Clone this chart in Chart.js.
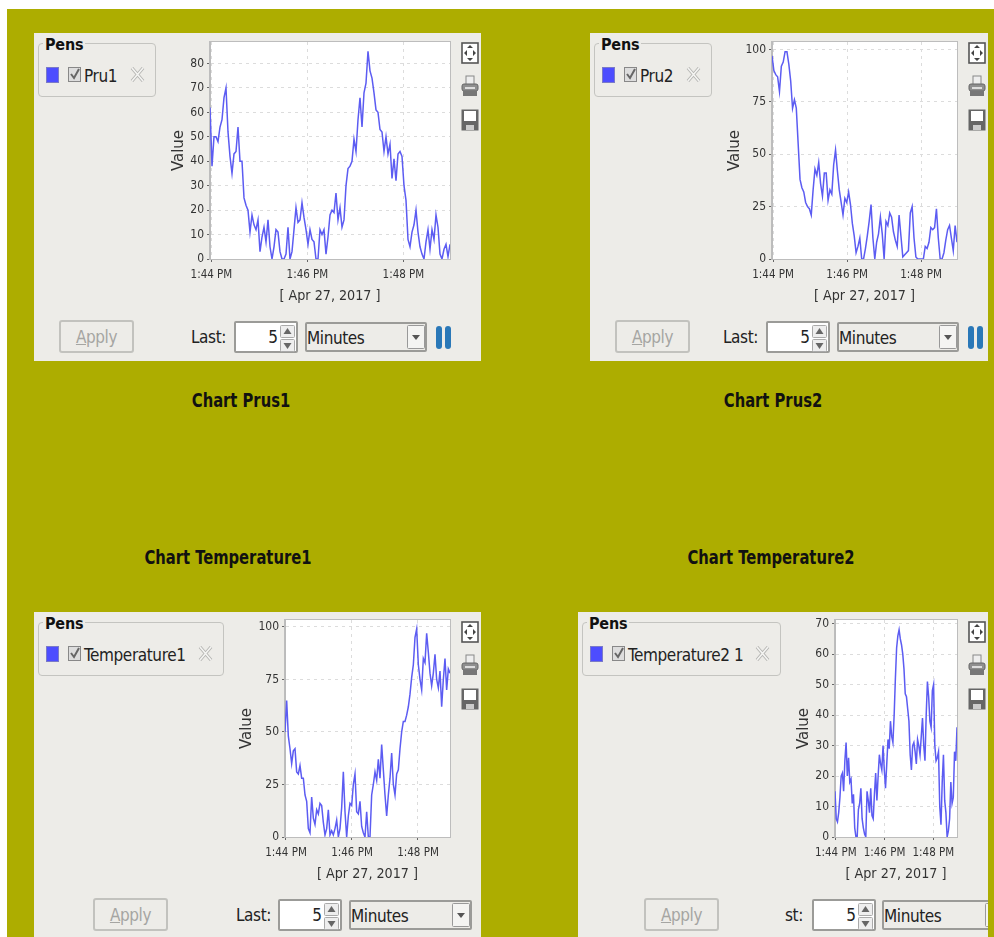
<!DOCTYPE html>
<html>
<head>
<meta charset="utf-8">
<title>Charts</title>
<script src="https://cdn.jsdelivr.net/npm/chart.js@4"></script>
<style>
  html, body { margin: 0; background: #fff; overflow: hidden; }
  #stage { position: relative; width: 994px; height: 937px; overflow: hidden; font-family: "DejaVu Sans Condensed", "DejaVu Sans", sans-serif; color: #222; filter: blur(0.4px); }
  #olive { position: absolute; left: 7px; top: 9px; right: 0; bottom: 0; background: #adad00; }
  .abs { position: absolute; }
  .panel { position: absolute; background: #edece8; overflow: hidden; }
  .heading { position: absolute; font-weight: bold; font-size: 20px; line-height: 22px; color: #111; white-space: nowrap; transform: translateX(-50%) scaleX(0.82); }
  .pens { position: absolute; border: 1px solid #c4c4c0; border-radius: 4px; box-sizing: border-box; }
  .penstitle { position: absolute; left: 4px; top: -8px; padding: 0 2px; background: #edece8; font-weight: bold; font-size: 16px; line-height: 18px; color: #111; letter-spacing: -0.2px; }
  .swatch { position: absolute; background: #4d4dff; border: 1px solid #7a7ac8; box-sizing: border-box; }
  .txt { position: absolute; white-space: nowrap; font-size: 17px; line-height: 20px; color: #222; letter-spacing: -0.4px; }
  .btn { position: absolute; box-sizing: border-box; border: 2px solid #c2c2be; border-radius: 3px; background: #edece8; color: #a5a5a2; text-align: center; font-size: 17px; line-height: 30px; letter-spacing: -0.4px; }
  .spin { position: absolute; box-sizing: border-box; border: 2px solid #9b9b98; border-radius: 2px; background: #fff; font-size: 17px; line-height: 28px; text-align: right; padding-right: 18px; color: #222; }
  .combo { position: absolute; box-sizing: border-box; border: 2px solid #9b9b98; border-radius: 2px; background: #edece8; font-size: 17px; line-height: 28px; padding-left: 0; color: #222; letter-spacing: -0.4px; }
  canvas { position: absolute; }
</style>
</head>
<body>
<div id="stage"><div id="olive"></div></div>
<script>
// values, evenly spaced over the 5 minute window
const pru1Values = [62,38,50,50,48,54,57,66,70,52,42,35,43,44,54,40,40,25,22,20,11,18,14,12,16,3,9,13,7,16,5,0,5,12,11,3,0,0,2,13,0,3,12,21,15,16,23,17,12,6,12,8,7,0,0,12,10,12,2,9,18,20,19,27,16,21,13,16,30,37,38,40,49,44,57,66,54,68,72,85,77,74,68,61,60,53,52,44,50,43,47,33,41,32,43,44,42,30,24,8,5,11,14,20,11,5,2,0,7,12,4,12,8,18,13,2,0,4,6,1,6];
const pru2Values = [97,90,88,87,80,92,94,99,99,93,85,72,76,72,55,38,34,32,27,25,24,21,33,43,40,46,36,30,41,41,28,33,31,45,52,42,33,27,21,29,27,32,26,17,11,3,6,10,0,0,5,11,18,26,10,0,8,12,20,12,0,18,16,22,20,13,9,6,21,11,1,2,3,4,22,25,10,1,0,0,0,0,6,5,8,15,14,15,24,10,0,0,3,9,14,16,10,4,16,8];
const temp1Values = [50,65,48,42,35,41,42,31,30,34,28,28,20,17,4,2,19,9,6,13,11,16,15,7,1,4,13,1,3,1,4,8,0,4,14,31,12,0,10,16,15,25,30,12,11,17,5,2,0,12,0,0,20,25,31,27,37,28,44,32,20,10,20,28,40,25,20,30,32,42,50,55,55,58,62,68,76,82,95,99,82,75,70,85,83,97,88,78,72,78,87,75,71,79,62,75,85,70,80,78];
const temp2Values = [15,6,5,8,13,20,21,15,25,31,20,26,18,19,11,14,3,0,0,9,11,16,6,3,1,0,15,12,8,16,7,6,14,21,12,20,27,24,22,30,22,16,24,32,29,38,33,31,40,52,62,66,68,65,63,60,55,47,46,42,38,27,22,30,31,28,24,32,30,27,33,39,30,25,40,51,46,38,36,48,50,30,25,26,28,10,4,18,27,12,8,0,2,6,18,11,13,28,25,36];

const timeTicks = [0, 2, 4];
const timeLabels = ['1:44 PM', '1:46 PM', '1:48 PM'];
const ticks10 = [0, 10, 20, 30, 40, 50, 60, 70, 80];
const ticks25 = [0, 25, 50, 75, 100];
const ticks70 = [0, 10, 20, 30, 40, 50, 60, 70];

const dateLabel = '[ Apr 27, 2017 ]';
const lineColor = '#5c5cf2';

const icons = {
  zoom: '<svg width="18" height="22" viewBox="0 0 18 22"><rect x="1" y="1" width="16" height="20" fill="#fff" stroke="#555" stroke-width="1.6"/><path d="M9 3l3 3H6zM9 19l3-3H6zM3 11l3-3v6zM15 11l-3-3v6z" fill="#444"/></svg>',
  print: '<svg width="18" height="22" viewBox="0 0 18 22"><rect x="5" y="1" width="8" height="9" fill="#eee" stroke="#888"/><rect x="1" y="9" width="16" height="7" rx="2" fill="#8f8f8f" stroke="#666"/><rect x="2" y="16" width="14" height="5" fill="#777"/><rect x="4" y="12" width="10" height="2" fill="#ddd"/></svg>',
  save: '<svg width="18" height="22" viewBox="0 0 18 22"><rect x="0.5" y="0.5" width="17" height="21" fill="#666"/><rect x="3" y="2" width="12" height="10" fill="#fff"/><rect x="5" y="16" width="8" height="5" fill="#ccc"/></svg>',
  cross: '<svg width="15" height="17" viewBox="0 0 15 17"><path d="M2 2l11 13M13 2L2 15" stroke="#b5b5b2" stroke-width="3.4" fill="none"/><path d="M2 2l11 13M13 2L2 15" stroke="#f4f4f2" stroke-width="1.6" fill="none"/></svg>',
  check: '<svg width="13" height="15" viewBox="0 0 13 15"><rect x="0.5" y="0.5" width="12" height="14" fill="#ddd" stroke="#888"/><path d="M3 7l3 4 5-9" stroke="#666" stroke-width="2" fill="none"/></svg>',
  pause: '<svg width="15" height="23" viewBox="0 0 15 23"><rect x="0" y="0" width="6" height="23" rx="3" fill="#2a78b8"/><rect x="9" y="0" width="6" height="23" rx="3" fill="#2a78b8"/></svg>',
  up: '<svg width="15" height="13" viewBox="0 0 15 13"><rect x="0.5" y="0.5" width="14" height="12" rx="1" fill="#eee" stroke="#aaa"/><path d="M7.5 3l4 6h-8z" fill="#666"/></svg>',
  down: '<svg width="15" height="13" viewBox="0 0 15 13"><rect x="0.5" y="0.5" width="14" height="12" rx="1" fill="#eee" stroke="#aaa"/><path d="M7.5 10l4-6h-8z" fill="#666"/></svg>',
  drop: '<svg width="18" height="24" viewBox="0 0 18 24"><rect x="0.5" y="0.5" width="17" height="23" rx="1" fill="#f4f4f2" stroke="#999"/><path d="M9 15l4-5H5z" fill="#555"/></svg>'
};

const stage = document.getElementById('stage');

function el(cls, x, y, w, h, html) {
  const d = document.createElement('div');
  d.className = cls;
  d.style.left = x + 'px';
  d.style.top = y + 'px';
  if (w) d.style.width = w + 'px';
  if (h) d.style.height = h + 'px';
  if (html) d.innerHTML = html;
  stage.appendChild(d);
  return d;
}

function heading(text, cx, y) {
  el('heading', cx, y, 0, 0, text).style.width = 'auto';
}

// cut a widget off at the panel's right edge, the fourth panel is too narrow for its combo
function clipTo(d, x, w, edge) {
  if (x + w > edge) d.style.clipPath = 'inset(0 ' + (x + w - edge) + 'px 0 0)';
}

function widgets(p) {
  el('panel', p.x, p.y, p.w, p.h);
  const top = p.y, edge = p.x + p.w;
  el('pens', p.penX, top + 10, p.penW, 54, '<div class="penstitle">Pens</div>').style.zIndex = 1;
  el('swatch', p.penX + 8, top + 34, 13, 16);
  el('abs', p.penX + 30, top + 34, 13, 15, icons.check);
  el('txt', p.penX + 46, top + 33, 0, 0, p.name);
  el('abs', p.crossX, top + 33, 15, 17, icons.cross);
  el('abs', p.iconX, top + 9, 18, 22, icons.zoom);
  el('abs', p.iconX, top + 42, 18, 22, icons.print);
  el('abs', p.iconX, top + 76, 18, 22, icons.save);
  const by = top + p.btnY;
  el('btn', p.applyX, by, 75, 33, '<u>A</u>pply');
  el('txt', p.lastX, by + 7, 0, 0, p.lastText);
  el('spin', p.spinX, by + 1, 64, 32, '5');
  el('abs', p.spinX + 46, by + 3, 15, 13, icons.up);
  el('abs', p.spinX + 46, by + 17, 15, 13, icons.down);
  clipTo(el('combo', p.comboX, by + 2, p.comboW, 30, 'Minutes'), p.comboX, p.comboW, edge);
  const dropX = p.comboX + p.comboW - 20;
  clipTo(el('abs', dropX, by + 5, 18, 24, icons.drop), dropX, 18, edge);
  if (p.pause) el('abs', p.comboX + p.comboW + 9, by + 6, 15, 23, icons.pause);
}

// white plot with a thin grey frame
const plotFrame = {
  id: 'plotFrame',
  beforeDraw(chart) {
    const a = chart.chartArea, g = chart.ctx;
    g.fillStyle = '#fff';
    g.fillRect(a.left, a.top, a.width, a.height);
  },
  afterDraw(chart) {
    const a = chart.chartArea, g = chart.ctx;
    g.strokeStyle = '#bdbdbd';
    g.lineWidth = 1;
    g.strokeRect(a.left - 0.5, a.top - 0.5, a.width + 1, a.height + 1);
  }
};

function drawChart(p) {
  const left = p.valueX - 9, pad = 12, bottomH = 46;
  const canvas = document.createElement('canvas');
  const width = p.right - left + pad, height = p.bottom - p.top + pad + bottomH;
  canvas.style.left = left + 'px';
  canvas.style.top = (p.top - pad) + 'px';
  canvas.style.width = width + 'px';
  canvas.style.height = height + 'px';
  canvas.style.zIndex = 2;
  stage.appendChild(canvas);
  const n = p.values.length;
  const points = p.values.map((v, i) => ({ x: -0.03 + i * 5 / (n - 1), y: v }));
  new Chart(canvas.getContext('2d'), {
    type: 'line',
    data: { datasets: [{ data: points, borderColor: lineColor, borderWidth: 1.5, pointRadius: 0, tension: 0, clip: 0 }] },
    options: {
      responsive: false,
      animation: false,
      layout: { padding: { top: pad, right: pad, left: 0, bottom: 0 } },
      plugins: { legend: { display: false }, tooltip: { enabled: false } },
      scales: {
        x: {
          type: 'linear',
          min: -0.03,
          max: 4.97,
          afterBuildTicks: s => { s.ticks = timeTicks.map(v => ({ value: v })); },
          afterFit: s => { s.height = bottomH; s.paddingLeft = 0; s.paddingRight = 0; },
          ticks: {
            autoSkip: false, maxRotation: 0, color: '#333', padding: 6,
            font: { family: 'DejaVu Sans Condensed', size: 11.5 },
            callback: v => timeLabels[timeTicks.indexOf(v)]
          },
          grid: { color: '#dcdcdc', tickColor: '#666', tickLength: 3 },
          border: { color: '#aaa', dash: [3, 4] },
          title: { display: true, text: dateLabel, color: '#333', padding: 0, font: { family: 'DejaVu Sans Condensed', size: 14.2 } }
        },
        y: {
          min: 0,
          max: p.max,
          afterBuildTicks: s => { s.ticks = p.ticks.map(v => ({ value: v })); },
          afterFit: s => { s.width = p.left - left; s.paddingTop = 0; s.paddingBottom = 0; },
          ticks: { color: '#333', padding: 3, font: { family: 'DejaVu Sans Condensed', size: 12 } },
          grid: { color: '#dcdcdc', tickColor: '#666', tickLength: 3 },
          border: { color: '#bbb', dash: [3, 4] },
          title: { display: true, text: 'Value', color: '#333', padding: 0, font: { family: 'DejaVu Sans', size: 15 } }
        }
      }
    },
    plugins: [plotFrame]
  });
}

const panels = [
  { x: 34, y: 33, w: 447, h: 328, penX: 38, penW: 118, name: 'Pru1', crossX: 130, iconX: 461, btnY: 287,
    applyX: 59, lastX: 191, lastText: 'Last:', spinX: 234, comboX: 305, comboW: 122, pause: true,
    values: pru1Values, ticks: ticks10, max: 88.8, left: 210, right: 450, top: 42, bottom: 259, valueX: 179 },
  { x: 590, y: 33, w: 398, h: 328, penX: 594, penW: 118, name: 'Pru2', crossX: 686, iconX: 968, btnY: 287,
    applyX: 615, lastX: 723, lastText: 'Last:', spinX: 766, comboX: 837, comboW: 122, pause: true,
    values: pru2Values, ticks: ticks25, max: 103.6, left: 772, right: 957, top: 42, bottom: 259, valueX: 735 },
  { x: 34, y: 612, w: 447, h: 325, penX: 38, penW: 186, name: 'Temperature1', crossX: 198, iconX: 461, btnY: 286,
    applyX: 93, lastX: 236, lastText: 'Last:', spinX: 278, comboX: 349, comboW: 123, pause: false,
    values: temp1Values, ticks: ticks25, max: 103.3, left: 285, right: 450, top: 620, bottom: 837, valueX: 247 },
  { x: 578, y: 612, w: 410, h: 325, penX: 582, penW: 199, name: 'Temperature2 1', crossX: 755, iconX: 968, btnY: 286,
    applyX: 644, lastX: 785, lastText: 'st:', spinX: 812, comboX: 882, comboW: 123, pause: false,
    values: temp2Values, ticks: ticks70, max: 71.2, left: 835, right: 957, top: 620, bottom: 837, valueX: 804 }
];

heading('Chart Prus1', 241, 389);
heading('Chart Prus2', 773, 389);
heading('Chart Temperature1', 228, 546);
heading('Chart Temperature2', 771, 546);

panels.forEach(p => { widgets(p); drawChart(p); });
</script>
</body>
</html>
